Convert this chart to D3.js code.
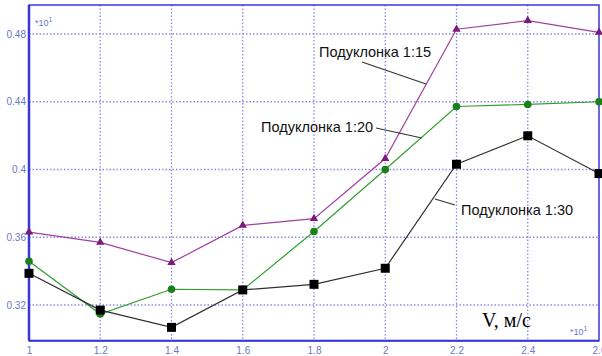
<!DOCTYPE html>
<html><head><meta charset="utf-8">
<script src="https://cdn.jsdelivr.net/npm/d3@7"></script>
<style>body{margin:0;background:#fff}svg{display:block}</style>
</head><body>
<svg id="c" width="602" height="356"></svg>
<script>
const xValues = [1, 1.2, 1.4, 1.6, 1.8, 2, 2.2, 2.4, 2.6];
const xTickLabels = ["1", "1.2", "1.4", "1.6", "1.8", "2", "2.2", "2.4", "2.6"];
const yTicks = [0.32, 0.36, 0.4, 0.44, 0.48];
const yTickLabels = ["0.32", "0.36", "0.4", "0.44", "0.48"];
const s15 = [0.363, 0.357, 0.345, 0.367, 0.371, 0.4065, 0.4828, 0.4879, 0.481];
const s20 = [0.3458, 0.3147, 0.3293, 0.3289, 0.3634, 0.4, 0.4372, 0.4384, 0.44];
const s30 = [0.3387, 0.317, 0.3068, 0.3289, 0.3322, 0.3417, 0.4031, 0.4199, 0.3976];
const seriesNames = ["Подуклонка 1:15", "Подуклонка 1:20", "Подуклонка 1:30"];

const svg = d3.select("#c");
const L = 29, R = 599, T = 5, B = 340.7;
const x = d3.scaleLinear().domain([1, 2.6]).range([L, R]);
const y = d3.scaleLinear().domain([0.32, 0.48]).range([305, 34]);

const gridColor = "#8a8ae8";
const axisColor = "#3838d8";
const labelColor = "#6a78c8";

// grid
svg.append("g").selectAll("line").data(xValues.slice(1, -1)).join("line")
  .attr("x1", d => x(d)).attr("x2", d => x(d)).attr("y1", T).attr("y2", B)
  .attr("stroke", gridColor).attr("stroke-width", 1.3).attr("stroke-dasharray", "1.5,2");
svg.append("g").selectAll("line").data(yTicks).join("line")
  .attr("x1", L).attr("x2", R).attr("y1", d => y(d)).attr("y2", d => y(d))
  .attr("stroke", gridColor).attr("stroke-width", 1.3).attr("stroke-dasharray", "1.5,2");

// frame
svg.append("rect").attr("x", L).attr("y", T).attr("width", R - L).attr("height", B - T)
  .attr("fill", "none").attr("stroke", axisColor).attr("stroke-width", 1.5);
svg.append("line").attr("x1", L).attr("x2", L).attr("y1", T).attr("y2", B)
  .attr("stroke", axisColor).attr("stroke-width", 2.5);
svg.append("line").attr("x1", L).attr("x2", R).attr("y1", B).attr("y2", B)
  .attr("stroke", axisColor).attr("stroke-width", 2);

// axes labels via d3 axes
const xAxis = d3.axisBottom(x).tickValues(xValues).tickFormat((d, i) => xTickLabels[i]).tickSize(0).tickPadding(6);
const gx = svg.append("g").attr("transform", `translate(0,${B})`).call(xAxis);
gx.select(".domain").remove();
gx.selectAll("text").attr("fill", labelColor).attr("font-family", "Arial, 'Liberation Sans', sans-serif").attr("font-size", 10);

const yAxis = d3.axisLeft(y).tickValues(yTicks).tickFormat((d, i) => yTickLabels[i]).tickSize(0).tickPadding(3);
const gy = svg.append("g").attr("transform", `translate(${L},0)`).call(yAxis);
gy.select(".domain").remove();
gy.selectAll("text").attr("fill", labelColor).attr("font-family", "Arial, 'Liberation Sans', sans-serif").attr("font-size", 10);

// multipliers
function mult(px, py) {
  const t = svg.append("text").attr("x", px).attr("y", py).attr("fill", labelColor)
    .attr("font-family", "Arial, 'Liberation Sans', sans-serif").attr("font-size", 9);
  t.append("tspan").text("*10");
  t.append("tspan").attr("dy", -4).attr("font-size", 7).text("1");
}
mult(35, 26);
mult(570, 335);

// lines
const line = d3.line().x((d, i) => x(xValues[i])).y(d => y(d));
const col15 = "#a040a0", col20 = "#2fa02f", col30 = "#303030";
svg.append("path").datum(s15).attr("d", line).attr("fill", "none").attr("stroke", col15).attr("stroke-width", 1.2);
svg.append("path").datum(s20).attr("d", line).attr("fill", "none").attr("stroke", col20).attr("stroke-width", 1.2);
svg.append("path").datum(s30).attr("d", line).attr("fill", "none").attr("stroke", col30).attr("stroke-width", 1.2);

// markers
const tri = d3.symbol().type(d3.symbolTriangle).size(30);
svg.append("g").selectAll("path").data(s15).join("path")
  .attr("d", tri).attr("transform", (d, i) => `translate(${x(xValues[i])},${y(d)})`).attr("fill", "#7a1a7a");
svg.append("g").selectAll("circle").data(s20).join("circle")
  .attr("cx", (d, i) => x(xValues[i])).attr("cy", d => y(d)).attr("r", 3.8).attr("fill", "#1a801a");
svg.append("g").selectAll("rect").data(s30).join("rect")
  .attr("x", (d, i) => x(xValues[i]) - 4.5).attr("y", d => y(d) - 4.5).attr("width", 9).attr("height", 9).attr("fill", "#000");

// annotations
const annFont = "Arial, 'Liberation Sans', sans-serif";
function ann(text, tx, ty, lx1, ly1, lx2, ly2) {
  svg.append("line").attr("x1", lx1).attr("y1", ly1).attr("x2", lx2).attr("y2", ly2)
    .attr("stroke", "#333").attr("stroke-width", 1.2);
  svg.append("text").attr("x", tx).attr("y", ty).attr("font-family", annFont).attr("font-size", 14.5)
    .attr("fill", "#111").text(text);
}
ann(seriesNames[0], 319, 57, 362, 62, 426, 84);
ann(seriesNames[1], 261, 132, 376, 128, 422, 138);
ann(seriesNames[2], 461, 215, 455, 205, 435, 199);

svg.append("text").attr("x", 482).attr("y", 327).attr("font-family", "'Liberation Serif', 'Times New Roman', serif")
  .attr("font-size", 20).attr("fill", "#000").text("V, м/с");
</script>
</body></html>
